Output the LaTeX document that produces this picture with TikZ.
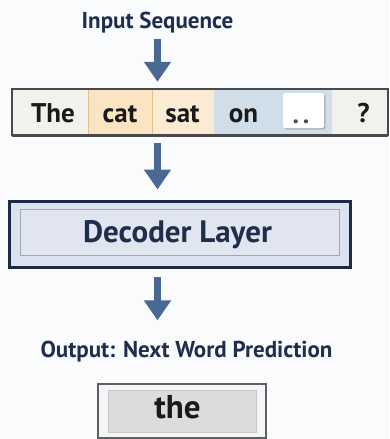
\documentclass[tikz,border=0pt]{standalone}
\usepackage{fontspec}
\setmainfont{PT Sans}
\usetikzlibrary{arrows.meta}

\definecolor{navy}{HTML}{1E2E4C}
\definecolor{arrowblue}{HTML}{4A6894}
\definecolor{inkdark}{HTML}{1A1A1A}
\definecolor{cellplain}{HTML}{F3F1EC}
\definecolor{cellcat}{HTML}{FAE4C2}
\definecolor{cellsat}{HTML}{FBEBD2}
\definecolor{cellon}{HTML}{CFDEE8}
\definecolor{cellsep}{HTML}{E6BF88}
\definecolor{bardark}{HTML}{4A4A4A}
\definecolor{decfill}{HTML}{DDE3EE}
\definecolor{decinner}{HTML}{E0E5EF}
\definecolor{decline}{HTML}{1C2A44}
\definecolor{innerline}{HTML}{A2A7B2}
\definecolor{outgrey}{HTML}{5C6068}
\definecolor{outinner}{HTML}{DCDCDC}
\definecolor{canvas}{HTML}{FAFBFC}

\tikzset{
  heading/.style={font=\bfseries\fontsize{23}{23}\selectfont, text=navy, inner sep=0pt},
  cellbox/.style={rectangle, minimum height=46pt, inner sep=0pt, draw=none},
  word/.style={font=\bfseries\fontsize{27}{27}\selectfont, text=inkdark, inner sep=0pt, anchor=base},
  flow/.style={draw=arrowblue, line width=7pt, -{Triangle[width=26pt,length=20pt]}},
}

\begin{document}
\begin{tikzpicture}[x=1pt, y=-1pt]
  % canvas
  \fill[canvas] (0,0) rectangle (389,439);
  \useasboundingbox (0,0) rectangle (389,439);

  % heading
  \node[heading, anchor=base] (title) at (157.5,28) {Input Sequence};

  % token bar
  \node[cellbox, fill=cellplain, minimum width=76pt] (c1) at (50,112) {};
  \node[cellbox, fill=cellcat, minimum width=64pt] (c2) at (120,112) {};
  \node[cellbox, fill=cellsat, minimum width=62pt] (c3) at (183,112) {};
  \node[cellbox, fill=cellon, minimum width=118pt] (c4) at (273,112) {};
  \node[cellbox, fill=cellplain, minimum width=56pt] (c5) at (360,112) {};
  \draw[cellsep, line width=0.8pt] (c1.north east) -- (c1.south east);
  \draw[cellsep, line width=0.8pt] (c2.north east) -- (c2.south east);
  \draw[bardark, line width=1.6pt] (c1.north west) rectangle (c5.south east);
  \draw[bardark, line width=2.4pt] ([yshift=-0.6pt]c1.south west) -- ([yshift=-0.6pt]c5.south east);

  % blank slot with a soft shadow
  \fill[black!30, rounded corners=2pt] (284.5,95) rectangle (325.5,129.5);
  \node[rectangle, rounded corners=2pt, fill=white, minimum width=41pt, minimum height=35pt, inner sep=0pt] (slot) at (303.5,110.5) {};

  \node[word] (w1) at (53,122) {The};
  \node[word] (w2) at (120,122) {cat};
  \node[word] (w3) at (182.5,122) {sat};
  \node[word] (w4) at (243.5,122) {on};
  \node[word, font=\bfseries\fontsize{26}{26}\selectfont, text=black!70] (w5) at (301,123.5) {.\hspace{4pt}.};
  \node[word] (w6) at (363.5,122) {?};

  \draw[flow, shorten <=6pt, shorten >=7pt] (title.south) -- (title.south |- c3.north);

  % decoder block
  \node[rectangle, draw=decline, line width=3pt, fill=decfill, minimum width=341pt, minimum height=66pt, inner sep=0pt] (dec) at (179.5,234) {};
  \node[rectangle, draw=innerline, line width=0.9pt, fill=decinner, minimum width=319pt, minimum height=46pt, inner sep=0pt] (decin) at (179.5,232) {};
  \node[font=\bfseries\fontsize{31}{31}\selectfont, text=navy, inner sep=0pt, anchor=base] (declabel) at (177.5,242) {Decoder Layer};

  \draw[flow, shorten <=8pt, shorten >=10pt] (title.south |- c3.south) -- (title.south |- dec.north);

  % output
  \node[heading, anchor=base] (outlabel) at (186.5,357) {Output: Next Word Prediction};
  \draw[flow, shorten <=8pt, shorten >=20pt] (title.south |- dec.south) -- (title.south |- outlabel.north);

  \node[rectangle, draw=outgrey, line width=2pt, fill=white!96!black, minimum width=168pt, minimum height=54pt, inner sep=0pt] (outbox) at (181.5,410.5) {};
  \node[rectangle, draw=black!22, line width=0.8pt, fill=outinner, minimum width=148pt, minimum height=42pt, inner sep=0pt] (outin) at (182,411) {};
  \node[word, font=\bfseries\fontsize{33}{33}\selectfont] (pred) at (177.5,418) {the};
\end{tikzpicture}
\end{document}
